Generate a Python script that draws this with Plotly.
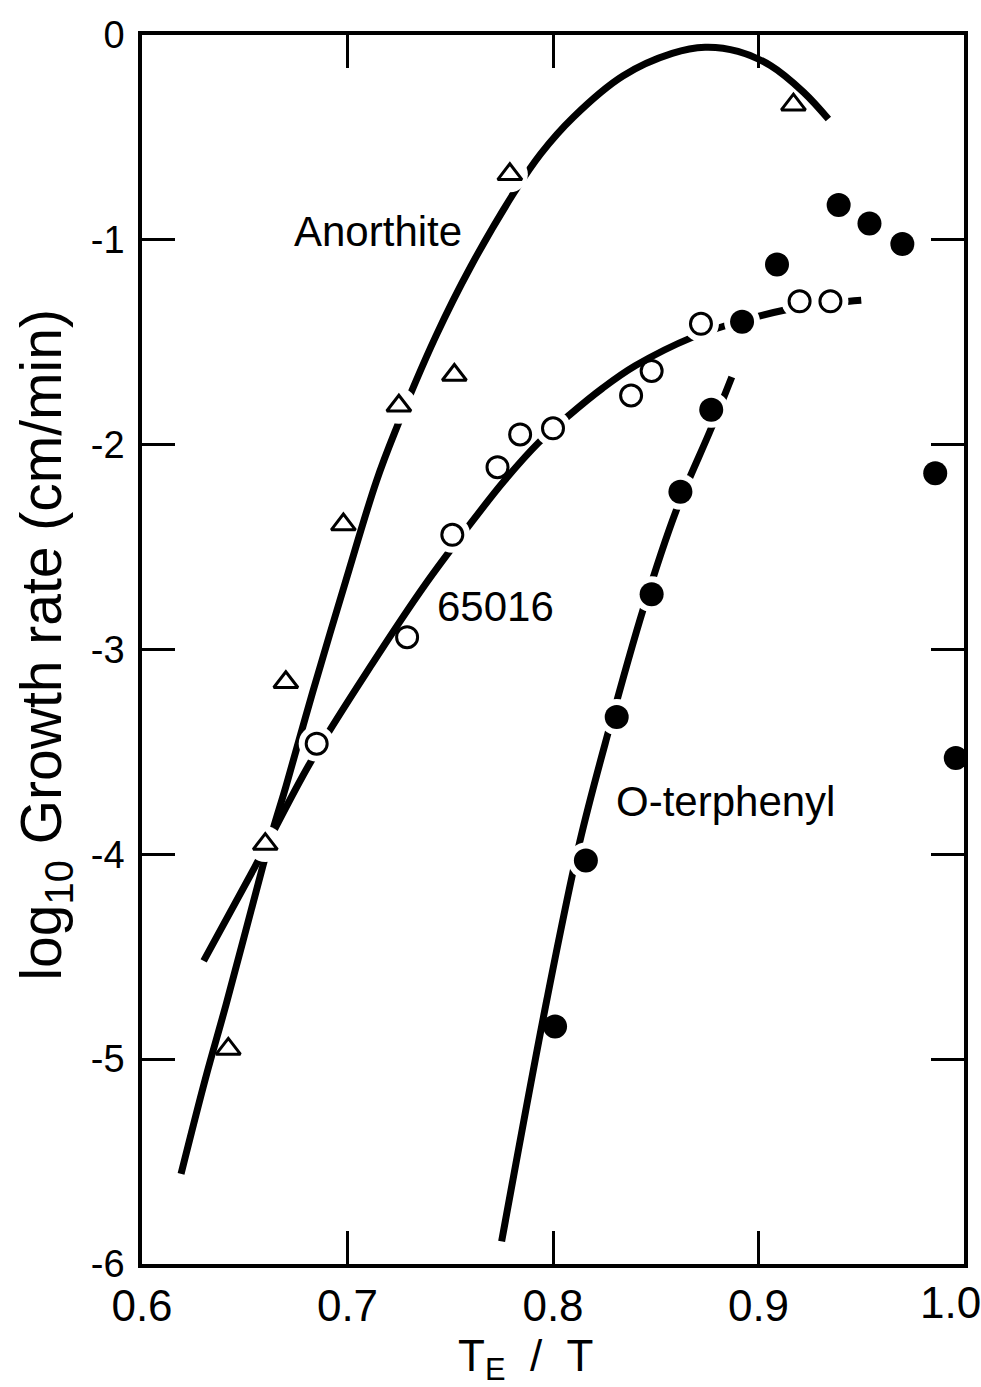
import plotly.graph_objects as go

# --- measured growth rates: log10 (cm/min) versus reduced temperature T_E/T ---
anorthite_x = [0.642, 0.660, 0.670, 0.698, 0.725, 0.752, 0.779, 0.917]
anorthite_y = [-4.95, -3.95, -3.16, -2.39, -1.81, -1.66, -0.68, -0.34]

glass_65016_x = [0.685, 0.729, 0.751, 0.773, 0.784, 0.800, 0.838, 0.848, 0.872, 0.920, 0.935]
glass_65016_y = [-3.46, -2.94, -2.44, -2.11, -1.95, -1.92, -1.76, -1.64, -1.41, -1.30, -1.30]

oterphenyl_x = [0.801, 0.816, 0.831, 0.848, 0.862, 0.877, 0.892, 0.909, 0.939, 0.954, 0.970, 0.986, 0.996]
oterphenyl_y = [-4.84, -4.03, -3.33, -2.73, -2.23, -1.83, -1.40, -1.12, -0.83, -0.92, -1.02, -2.14, -3.53]

# --- smooth trend curves drawn through each data set ---
anorthite_curve_x = [0.619, 0.631, 0.641, 0.659, 0.664, 0.670, 0.683, 0.699, 0.714, 0.723, 0.743,
                     0.760, 0.781, 0.794, 0.810, 0.834, 0.858, 0.874, 0.890, 0.906, 0.922, 0.934]
anorthite_curve_y = [-5.56, -5.09, -4.73, -4.05, -3.87, -3.67, -3.21, -2.67, -2.18, -1.94, -1.47,
                     -1.13, -0.77, -0.58, -0.40, -0.20, -0.09, -0.06, -0.08, -0.15, -0.28, -0.41]

glass_65016_curve_x = [0.630, 0.655, 0.682, 0.712, 0.738, 0.758, 0.776, 0.793, 0.808, 0.824,
                       0.840, 0.868, 0.892, 0.914, 0.929, 0.950]
glass_65016_curve_y = [-4.52, -4.06, -3.55, -3.07, -2.68, -2.41, -2.18, -1.99, -1.855, -1.725,
                       -1.615, -1.475, -1.395, -1.34, -1.315, -1.295]

oterphenyl_curve_x = [0.775, 0.797, 0.813, 0.827, 0.844, 0.860, 0.877, 0.887]
oterphenyl_curve_y = [-5.89, -4.71, -3.94, -3.40, -2.80, -2.32, -1.92, -1.67]

# points that sit on their curve; the curve is broken around them
anorthite_on_curve = [1, 4, 6]
glass_65016_on_curve = [0, 2, 5, 8, 9, 10]
oterphenyl_on_curve = [1, 2, 3, 4, 5, 6]

x_ticks = [0.6, 0.7, 0.8, 0.9, 1.0]
x_tick_text = ["0.6", "0.7", "0.8", "0.9", ""]
x_end_label = "1.0"
y_ticks = [0, -1, -2, -3, -4, -5, -6]
y_tick_text = ["0", "-1", "-2", "-3", "-4", "-5", "-6"]

FONT = "Liberation Sans, Arial, sans-serif"
INK = "black"

fig = go.Figure()

# trend curves
for cx, cy in [(anorthite_curve_x, anorthite_curve_y),
               (glass_65016_curve_x, glass_65016_curve_y),
               (oterphenyl_curve_x, oterphenyl_curve_y)]:
    fig.add_trace(go.Scatter(x=cx, y=cy, mode="lines",
                             line=dict(color=INK, width=7, shape="spline", smoothing=1.0),
                             hoverinfo="skip", showlegend=False, cliponaxis=False))

# white gaps in the curves around the points lying on them
halo_x, halo_y = [], []
for xs, ys, idx in [(anorthite_x, anorthite_y, anorthite_on_curve),
                    (glass_65016_x, glass_65016_y, glass_65016_on_curve),
                    (oterphenyl_x, oterphenyl_y, oterphenyl_on_curve)]:
    halo_x += [xs[i] for i in idx]
    halo_y += [ys[i] for i in idx]
fig.add_trace(go.Scatter(x=halo_x, y=halo_y, mode="markers",
                         marker=dict(symbol="circle", size=36, color="white", line=dict(width=0)),
                         hoverinfo="skip", showlegend=False, cliponaxis=False))

# data points
fig.add_trace(go.Scatter(x=anorthite_x, y=anorthite_y, mode="markers", name="Anorthite",
                         marker=dict(symbol="triangle-up-open", size=21, color=INK,
                                     line=dict(width=3, color=INK)),
                         showlegend=False, cliponaxis=False))
fig.add_trace(go.Scatter(x=glass_65016_x, y=glass_65016_y, mode="markers", name="65016",
                         marker=dict(symbol="circle-open", size=21, color=INK,
                                     line=dict(width=3, color=INK)),
                         showlegend=False, cliponaxis=False))
fig.add_trace(go.Scatter(x=oterphenyl_x, y=oterphenyl_y, mode="markers", name="O-terphenyl",
                         marker=dict(symbol="circle", size=24, color=INK, line=dict(width=0)),
                         showlegend=False, cliponaxis=False))

# curve labels
labels = [("Anorthite", 0.715, -0.96), ("65016", 0.772, -2.79), ("O-terphenyl", 0.884, -3.74)]
for text, lx, ly in labels:
    fig.add_annotation(x=lx, y=ly, xref="x", yref="y", text=text, showarrow=False,
                       xanchor="center", yanchor="middle",
                       font=dict(family=FONT, size=42, color=INK))

# last x tick label, kept inside the page edge
fig.add_annotation(x=1.0, y=0, xref="x", yref="paper", text=x_end_label, showarrow=False,
                   xanchor="center", yanchor="top", xshift=-14, yshift=-12,
                   font=dict(family=FONT, size=44, color=INK))

# axis titles
fig.add_annotation(x=-0.118, y=0.504, xref="paper", yref="paper",
                   text="log<sub>10</sub> Growth rate (cm/min)", showarrow=False,
                   textangle=-90, xanchor="center", yanchor="middle",
                   font=dict(family=FONT, size=57, color=INK))
fig.add_annotation(x=0.466, y=-0.077, xref="paper", yref="paper",
                   text="T<sub>E</sub>&nbsp;&nbsp;/&nbsp;&nbsp;T", showarrow=False,
                   xanchor="center", yanchor="middle",
                   font=dict(family=FONT, size=44, color=INK))

axis_common = dict(showgrid=False, zeroline=False, showline=True, linecolor=INK, linewidth=3.5,
                   mirror="allticks", ticks="inside", ticklen=33, tickwidth=2.5, tickcolor=INK)

fig.update_xaxes(range=[0.6, 1.0], tickvals=x_ticks, ticktext=x_tick_text,
                 tickfont=dict(family=FONT, size=44, color=INK), ticklabelstandoff=0,
                 **axis_common)
fig.update_yaxes(range=[-6, 0], tickvals=y_ticks, ticktext=y_tick_text,
                 tickfont=dict(family=FONT, size=38, color=INK), ticklabelstandoff=6,
                 **axis_common)

fig.update_layout(width=981, height=1387, autosize=False,
                  margin=dict(l=142, r=17, t=35, b=123),
                  paper_bgcolor="white", plot_bgcolor="white",
                  font=dict(family=FONT, color=INK))

fig.write_html("out.html")
